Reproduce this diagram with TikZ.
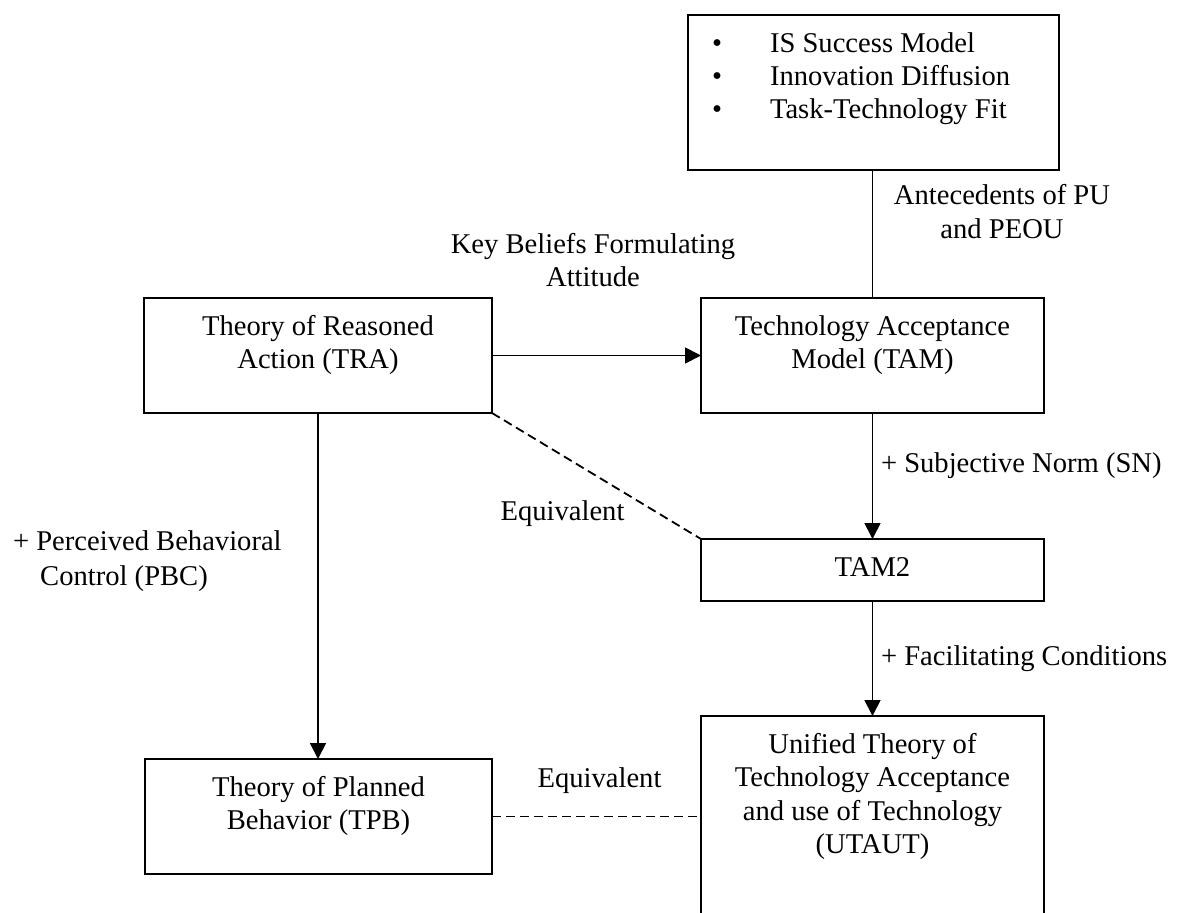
\documentclass[tikz,border=0pt]{standalone}
\usepackage{fontspec}
\setmainfont{Liberation Serif}
\usetikzlibrary{arrows.meta}
\begin{document}
\begin{tikzpicture}[x=1pt,y=-1pt,
  every node/.style={inner sep=0pt, outer sep=0pt},
  box/.style={draw, line width=1.8pt, rectangle},
  ghost/.style={rectangle},
  txt/.style={font=\fontsize{28.6pt}{33.5pt}\selectfont, anchor=base},
  conn/.style={line width=1.8pt},
  arr/.style={conn, -{Triangle[length=16pt,width=16pt]}},
  dsh/.style={conn, dash pattern=on 9pt off 5pt}]
\useasboundingbox (0,0) rectangle (1181,913);

% boxes
\node[box, minimum width=371pt, minimum height=155pt] (tb) at (873.5,92.5) {};
\node[box, minimum width=348pt, minimum height=115pt] (tra) at (318,355.5) {};
\node[box, minimum width=343pt, minimum height=115pt] (tam) at (872.5,355.5) {};
\node[box, minimum width=343pt, minimum height=62pt] (tam2) at (872.5,570) {};
\node[box, minimum width=347pt, minimum height=115pt] (tpb) at (318.5,816.5) {};
\node[ghost, minimum width=343pt, minimum height=197pt] (ut) at (872.5,814.5) {};
\draw[conn] (ut.south west) -- (ut.north west) -- (ut.north east) -- (ut.south east);

% list in top box
\node[txt] (b1) at (717,52) {•};
\node[txt] (b2) at (717,85) {•};
\node[txt] (b3) at (717,118.5) {•};
\node[txt, anchor=base west] (l1) at (770,52) {IS Success Model};
\node[txt, anchor=base west] (l2) at (770,85) {Innovation Diffusion};
\node[txt, anchor=base west] (l3) at (770,118.5) {Task-Technology Fit};

% box texts
\node[txt] (tra1) at (318,335) {Theory of Reasoned};
\node[txt] (tra2) at (318,368.5) {Action (TRA)};
\node[txt] (tam1) at (872.5,335) {Technology Acceptance};
\node[txt] (tam2t) at (872.5,368.5) {Model (TAM)};
\node[txt] (tam2x) at (872.5,576) {TAM2};
\node[txt] (tpb1) at (318.5,796) {Theory of Planned};
\node[txt] (tpb2) at (318.5,829.5) {Behavior (TPB)};
\node[txt] (ut1) at (872.5,753) {Unified Theory of};
\node[txt] (ut2) at (872.5,786.5) {Technology Acceptance};
\node[txt] (ut3) at (872.5,820) {and use of Technology};
\node[txt] (ut4) at (872.5,853.5) {(UTAUT)};

% connectors
\draw[conn] (tb.south -| tam.north) -- (tam.north);
\draw[arr] (tra.east) -- (tam.west);
\draw[dsh] (tra.south east) -- (tam2.north west);
\draw[arr] (tam.south) -- (tam2.north);
\draw[arr] (tam2.south) -- (ut.north);
\draw[arr] (tra.south) -- (tra.south |- tpb.north);
\draw[dsh] (tpb.east) -- (tpb.east -| ut.west);

% labels
\node[txt] (a1) at (1002,204) {Antecedents of PU};
\node[txt] (a2) at (1002,238) {and PEOU};
\node[txt] (k1) at (593,253) {Key Beliefs Formulating};
\node[txt] (k2) at (593,286) {Attitude};
\node[txt] (e1) at (562.5,520) {Equivalent};
\node[txt, anchor=base west] (sn) at (881,472) {+ Subjective Norm (SN)};
\node[txt, anchor=base west] (fc) at (881,665) {+ Facilitating Conditions};
\node[txt, anchor=base west] (p1) at (13,550) {+ Perceived Behavioral};
\node[txt] (p2) at (124,585) {Control (PBC)};
\node[txt] (e2) at (599.5,787) {Equivalent};
\end{tikzpicture}
\end{document}
